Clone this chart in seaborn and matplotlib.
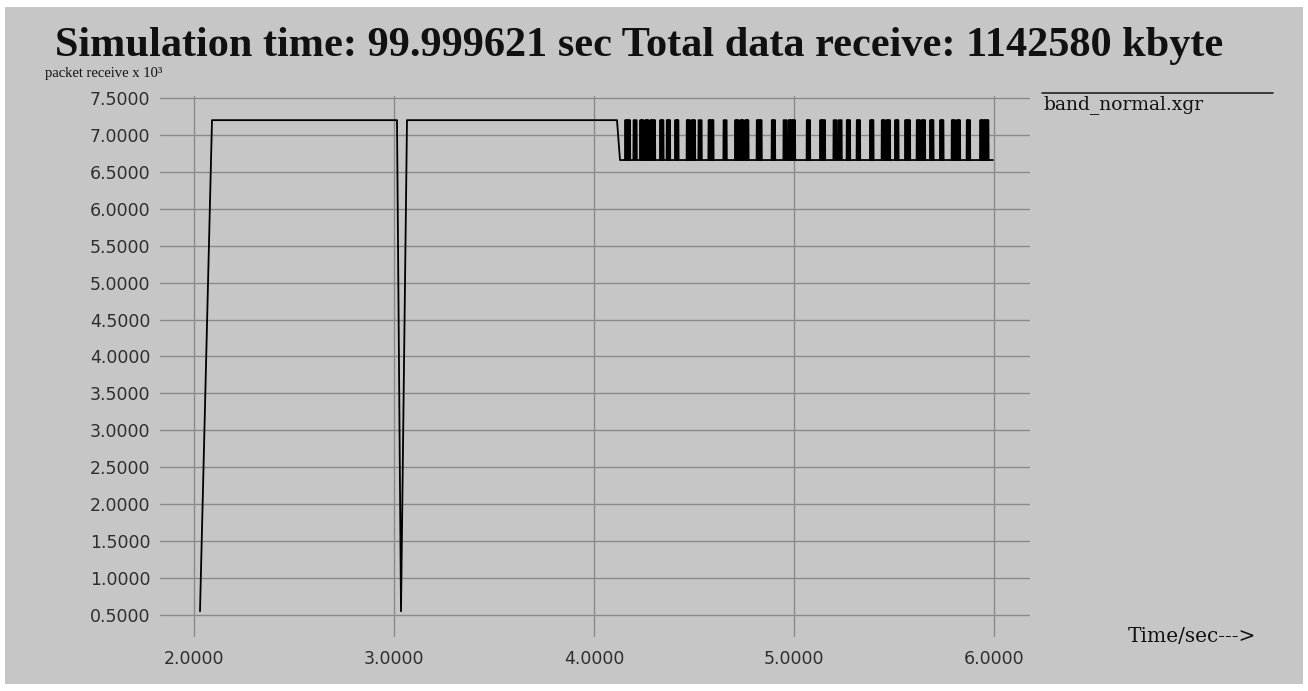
import numpy as np
import pandas as pd
import matplotlib
matplotlib.use("Agg")
import matplotlib.pyplot as plt
import seaborn as sns
from matplotlib.lines import Line2D
from matplotlib.patches import Rectangle

# ---- data: packets received (x 10^3) against simulation time ----
# leading section: start-up ramp, the dip near t=3 and the step down at ~4.1
lead_time = [2.03, 2.09, 3.015, 3.035, 3.065, 4.115, 4.13]
lead_value = [0.55, 7.20, 7.20, 0.55, 7.20, 7.20, 6.66]

# oscillating section: bursts where the rate flips back up to the high level
spike_start = [4.155, 4.197, 4.230, 4.255, 4.280, 4.330, 4.363, 4.405, 4.463,
               4.488, 4.522, 4.572, 4.647, 4.705, 4.730, 4.755, 4.813, 4.888,
               4.947, 4.972, 5.063, 5.130, 5.197, 5.222, 5.263, 5.313, 5.380,
               5.438, 5.463, 5.505, 5.555, 5.613, 5.638, 5.680, 5.730, 5.788,
               5.813, 5.863, 5.930]
spike_end = [4.180, 4.213, 4.247, 4.272, 4.305, 4.347, 4.380, 4.422, 4.480,
             4.505, 4.538, 4.597, 4.663, 4.722, 4.747, 4.772, 4.838, 4.905,
             4.963, 5.005, 5.080, 5.155, 5.213, 5.238, 5.280, 5.330, 5.397,
             5.455, 5.480, 5.522, 5.580, 5.630, 5.655, 5.697, 5.747, 5.805,
             5.830, 5.880, 5.972]
high_level = 7.20
low_level = 6.66
end_time = [5.995]
end_value = [6.66]

x_ticks = [2.0, 3.0, 4.0, 5.0, 6.0]
x_tick_labels = ["2.0000", "3.0000", "4.0000", "5.0000", "6.0000"]
y_ticks = [0.5, 1.0, 1.5, 2.0, 2.5, 3.0, 3.5, 4.0, 4.5, 5.0, 5.5, 6.0, 6.5, 7.0, 7.5]
y_tick_labels = ["%.4f" % v for v in y_ticks]

title = "Simulation time: 99.999621 sec Total data receive: 1142580 kbyte"
y_title = "packet receive x 10\u00b3"
x_title = "Time/sec--->"
series_name = "band_normal.xgr"

# ---- assemble the polyline ----
# inside each burst the rate flips up and down every few milliseconds
flip_gap = 0.0065
t_all = list(lead_time)
v_all = list(lead_value)
for s, e in zip(spike_start, spike_end):
    n = max(2, int(round((e - s) / flip_gap)))
    edges = np.linspace(s, e, 2 * n)
    for k, x in enumerate(edges):
        if k % 2 == 0:
            t_all += [x, x + 0.001]
            v_all += [low_level, high_level]
        else:
            t_all += [x, x + 0.001]
            v_all += [high_level, low_level]
t_all += end_time
v_all += end_value
df = pd.DataFrame({"time": t_all, "packets": v_all})

# ---- styling ----
BG = "#c6c6c6"
GRID = "#8a8a8a"
sns.set_style("whitegrid", {"axes.facecolor": BG, "grid.color": GRID})
plt.rcParams["font.family"] = ["DejaVu Sans"]

W, H = 1308, 691
fig = plt.figure(figsize=(W / 100, H / 100), dpi=100)
fig.patch.set_facecolor("white")
fig.add_artist(Rectangle((5 / W, 1 - 684 / H), (1303 - 5) / W, (684 - 7) / H,
                         transform=fig.transFigure, facecolor=BG,
                         edgecolor="none", zorder=-10))

ax = fig.add_axes([160 / W, 1 - 637 / H, 870 / W, 541 / H])
sns.lineplot(data=df, x="time", y="packets", sort=False, estimator=None,
             color="black", linewidth=1.3, ax=ax, zorder=3)

ax.set_xlim(1.83, 6.18)
ax.set_ylim(0.202, 7.527)
ax.set_xticks(x_ticks)
ax.set_xticklabels(x_tick_labels)
ax.set_yticks(y_ticks)
ax.set_yticklabels(y_tick_labels)
ax.grid(True, color=GRID, linewidth=1.0)
ax.set_axisbelow(True)
for sp in ax.spines.values():
    sp.set_visible(False)
ax.tick_params(axis="both", length=0, labelsize=12.5, labelcolor="#2e2e2e")
ax.tick_params(axis="y", pad=7)
ax.tick_params(axis="x", pad=9)
ax.set_xlabel("")
ax.set_ylabel("")

serif = ["Liberation Serif", "DejaVu Serif"]
wide_serif = ["DejaVu Serif"]
fig.text(55 / W, 1 - 56 / H, title, fontfamily=serif, fontweight="bold",
         fontsize=30.4, va="baseline", ha="left", color="#111111")
fig.text(45 / W, 1 - 77 / H, y_title, fontfamily=serif, fontsize=10.5,
         va="baseline", ha="left", color="#111111")
fig.text(1043 / W, 1 - 109 / H, series_name, fontfamily=wide_serif, fontsize=13.5,
         va="baseline", ha="left", color="#111111")
fig.add_artist(Line2D([1042 / W, 1273 / W], [1 - 93 / H, 1 - 93 / H],
                      transform=fig.transFigure, color="#222222", linewidth=1.2))
fig.text(1128 / W, 1 - 642 / H, x_title, fontfamily=wide_serif, fontsize=14.5,
         va="baseline", ha="left", color="#111111")

fig.savefig("out.png", dpi=100, facecolor=fig.get_facecolor())
